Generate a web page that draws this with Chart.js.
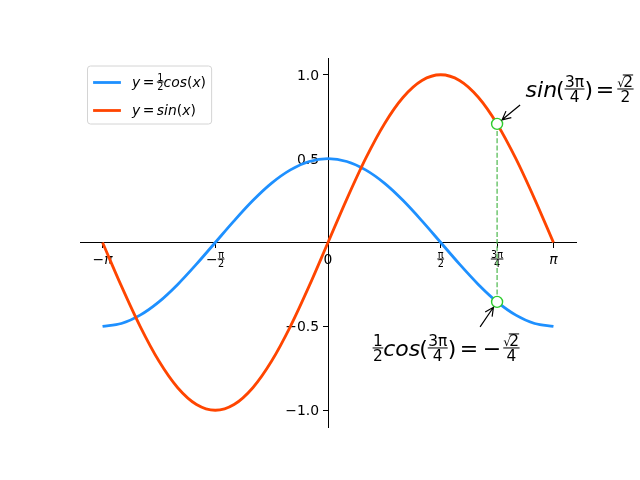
<!DOCTYPE html>
<html>
<head>
<meta charset="utf-8">
<script src="https://cdn.jsdelivr.net/npm/chart.js@4.4.1/dist/chart.umd.min.js"></script>
<style>
  body { margin: 0; background: #fff; }
  canvas { display: block; }
</style>
</head>
<body>
<canvas id="chart" width="640" height="480"></canvas>
<script>
// ---- DATA ----
// x in radians, every pi/12 from -pi to pi
const xs = [-3.1416, -2.8798, -2.6180, -2.3562, -2.0944, -1.8326, -1.5708, -1.3090, -1.0472, -0.7854, -0.5236, -0.2618,
            0, 0.2618, 0.5236, 0.7854, 1.0472, 1.3090, 1.5708, 1.8326, 2.0944, 2.3562, 2.6180, 2.8798, 3.1416];
const halfCosY = [-0.500, -0.483, -0.433, -0.354, -0.250, -0.129, 0.000, 0.129, 0.250, 0.354, 0.433, 0.483,
                  0.500, 0.483, 0.433, 0.354, 0.250, 0.129, 0.000, -0.129, -0.250, -0.354, -0.433, -0.483, -0.500];
const sinY = [0.000, -0.259, -0.500, -0.707, -0.866, -0.966, -1.000, -0.966, -0.866, -0.707, -0.500, -0.259,
              0.000, 0.259, 0.500, 0.707, 0.866, 0.966, 1.000, 0.966, 0.866, 0.707, 0.500, 0.259, 0.000];

// highlighted points at 3pi/4
const markerX = [2.3562, 2.3562];
const markerY = [0.707, -0.354];

// tick positions
const xTickValues = [-3.1416, -1.5708, 0, 1.5708, 2.3562, 3.1416];
const yTickValues = [-1.0, -0.5, 0.5, 1.0];

// ---- MATH TEXT HELPERS ----
const FONT = "'DejaVu Sans'";
const T = (t, i) => ({ t: t, i: !!i });
const FR = (n, d) => ({ frac: [n, d] });
const GAP = (g) => ({ gap: g });

const xTickLabels = [
    [T('\u2212'), T('\u03C0', true)],
    [T('\u2212'), FR([T('\u03C0')], [T('2')])],
    [T('0')],
    [FR([T('\u03C0')], [T('2')])],
    [FR([T('3\u03C0')], [T('4')])],
    [T('\u03C0', true)]
];

const legendLabels = [
    [T('y', true), GAP(0.18), T('='), GAP(0.18), FR([T('1')], [T('2')]), T('cos', true), T('('), T('x', true), T(')')],
    [T('y', true), GAP(0.18), T('='), GAP(0.18), T('sin', true), T('('), T('x', true), T(')')]
];

const annotSin = [T('sin', true), GAP(-0.05), T('('), FR([T('3\u03C0')], [T('4')]), T(')'), GAP(0.12), T('='), GAP(0.14),
                  FR([{ sqrt: [T('2')] }], [T('2')])];
const annotCos = [FR([T('1')], [T('2')]), T('cos', true), GAP(-0.05), T('('), FR([T('3\u03C0')], [T('4')]), T(')'),
                  GAP(0.16), T('='), GAP(0.2), T('\u2212'), GAP(0.1), FR([{ sqrt: [T('2')] }], [T('4')])];

function setFont(ctx, size, italic) {
    ctx.font = (italic ? 'italic ' : '') + size + 'px ' + FONT;
}

// lays out (and optionally draws) a list of math parts, returns width
function mathRun(ctx, parts, size, x, base, draw) {
    let cx = x;
    for (const p of parts) {
        if (p.gap !== undefined) { cx += p.gap * size; continue; }
        if (p.frac) {
            const fs = size * 0.7;
            const wn = mathRun(ctx, p.frac[0], fs, 0, 0, false);
            const wd = mathRun(ctx, p.frac[1], fs, 0, 0, false);
            const pad = size * 0.02;
            const w = Math.max(wn, wd) + 2 * pad;
            if (draw) {
                const ay = base - size * 0.36;
                const th = Math.max(1, size * 0.045);
                ctx.fillRect(cx, ay - th / 2, w, th);
                mathRun(ctx, p.frac[0], fs, cx + (w - wn) / 2, ay - size * 0.1, true);
                mathRun(ctx, p.frac[1], fs, cx + (w - wd) / 2, ay + size * 0.06 + fs * 0.73, true);
            }
            cx += w;
            continue;
        }
        if (p.sqrt) {
            const rs = size * 0.8;
            setFont(ctx, rs, false);
            const rw = ctx.measureText('\u221A').width * 0.72;
            const iw = mathRun(ctx, p.sqrt, size, 0, 0, false);
            if (draw) {
                setFont(ctx, rs, false);
                ctx.fillText('\u221A', cx - rw * 0.1, base);
                mathRun(ctx, p.sqrt, size, cx + rw, base, true);
                const th = Math.max(1, size * 0.06);
                ctx.fillRect(cx + rw * 0.9, base - size * 0.8, iw + rw * 0.1, th);
            }
            cx += rw + iw;
            continue;
        }
        setFont(ctx, size, p.i);
        if (draw) ctx.fillText(p.t, cx, base);
        cx += ctx.measureText(p.t).width;
    }
    return cx - x;
}

function drawArrow(ctx, x0, y0, x1, y1, shrink) {
    const dx = x1 - x0, dy = y1 - y0;
    const len = Math.hypot(dx, dy);
    const ux = dx / len, uy = dy / len;
    const tx = x1 - ux * shrink, ty = y1 - uy * shrink;
    const hl = 8.5, hw = 4.2;
    ctx.save();
    ctx.strokeStyle = '#000';
    ctx.lineWidth = 1.2;
    ctx.beginPath();
    ctx.moveTo(x0, y0);
    ctx.lineTo(tx, ty);
    ctx.moveTo(tx - ux * hl - uy * hw, ty - uy * hl + ux * hw);
    ctx.lineTo(tx, ty);
    ctx.lineTo(tx - ux * hl + uy * hw, ty - uy * hl - ux * hw);
    ctx.stroke();
    ctx.restore();
}

// ---- PLUGINS ----
const tickLabelPlugin = {
    id: 'tickLabels',
    beforeDatasetsDraw(chart) {
        const ctx = chart.ctx;
        const xs_ = chart.scales.x, ys_ = chart.scales.y;
        const axisY = ys_.getPixelForValue(0);
        const axisX = xs_.getPixelForValue(0);
        const size = 13.9;
        ctx.save();
        ctx.fillStyle = '#000';
        ctx.textBaseline = 'alphabetic';
        ctx.textAlign = 'left';
        xTickValues.forEach((v, i) => {
            const w = mathRun(ctx, xTickLabels[i], size, 0, 0, false);
            mathRun(ctx, xTickLabels[i], size, xs_.getPixelForValue(v) - w / 2, axisY + 21.5, true);
        });
        yTickValues.forEach((v) => {
            const label = (v < 0 ? '\u2212' : '') + Math.abs(v).toFixed(1);
            setFont(ctx, size, false);
            const w = ctx.measureText(label).width;
            ctx.fillText(label, axisX - 9 - w, ys_.getPixelForValue(v) + 5);
        });
        ctx.restore();
    }
};

const annotationPlugin = {
    id: 'annotations',
    afterDatasetsDraw(chart) {
        const ctx = chart.ctx;
        const px = chart.scales.x.getPixelForValue(markerX[0]);
        const py0 = chart.scales.y.getPixelForValue(markerY[0]);
        const py1 = chart.scales.y.getPixelForValue(markerY[1]);
        const size = 22;
        ctx.save();
        ctx.fillStyle = '#000';
        ctx.textBaseline = 'alphabetic';
        ctx.textAlign = 'left';
        drawArrow(ctx, px + 23, py0 - 19, px, py0, 6.5);
        mathRun(ctx, annotSin, size, px + 28.5, py0 - 27, true);
        drawArrow(ctx, px - 17, py1 + 25, px, py1, 6.5);
        mathRun(ctx, annotCos, size, px - 124.5, py1 + 54, true);

        // legend
        const area = chart.chartArea;
        const fs = 13.9;
        const tw = Math.max(...legendLabels.map(l => mathRun(ctx, l, fs, 0, 0, false)));
        const bx = area.left + 7.5, by = area.top + 8;
        const bw = 5.6 + 27.8 + 11.1 + tw + 5.6, bh = 58;
        ctx.beginPath();
        ctx.roundRect(bx, by, bw, bh, 3);
        ctx.fillStyle = 'rgba(255,255,255,0.8)';
        ctx.fill();
        ctx.strokeStyle = '#d4d4d4';
        ctx.lineWidth = 1;
        ctx.stroke();
        const rows = [by + 16.5, by + 44.5];
        const dsets = [chart.data.datasets[0], chart.data.datasets[1]];
        rows.forEach((ry, i) => {
            ctx.strokeStyle = dsets[i].borderColor;
            ctx.lineWidth = dsets[i].borderWidth;
            ctx.beginPath();
            ctx.moveTo(bx + 5.6, ry);
            ctx.lineTo(bx + 5.6 + 27.8, ry);
            ctx.stroke();
            ctx.fillStyle = '#000';
            mathRun(ctx, legendLabels[i], fs, bx + 5.6 + 27.8 + 11.1, ry + 4.5, true);
        });
        ctx.restore();
    }
};

// ---- CHART ----
const ctx = document.getElementById('chart').getContext('2d');
const chart = new Chart(ctx, {
    type: 'line',
    data: {
        datasets: [{
            label: 'y = 1/2 cos(x)',
            data: xs.map((x, i) => ({ x: x, y: halfCosY[i] })),
            borderColor: '#1E90FF',
            borderWidth: 2.8,
            pointRadius: 0,
            cubicInterpolationMode: 'monotone',
            order: 4
        }, {
            label: 'y = sin(x)',
            data: xs.map((x, i) => ({ x: x, y: sinY[i] })),
            borderColor: '#FF4500',
            borderWidth: 2.8,
            pointRadius: 0,
            cubicInterpolationMode: 'monotone',
            order: 3
        }, {
            label: 'guide',
            data: markerX.map((x, i) => ({ x: x, y: markerY[i] })),
            borderColor: '#4cb84c',
            borderWidth: 1.2,
            borderDash: [5, 2.2],
            pointRadius: 0,
            order: 2
        }, {
            type: 'scatter',
            label: 'points',
            data: markerX.map((x, i) => ({ x: x, y: markerY[i] })),
            showLine: false,
            pointRadius: 5.5,
            pointBackgroundColor: '#ffffff',
            pointBorderColor: '#2ecc2e',
            pointBorderWidth: 1.4,
            order: 1
        }]
    },
    options: {
        responsive: false,
        animation: false,
        devicePixelRatio: 1,
        layout: { padding: { left: 80, right: 64, top: 58, bottom: 53 } },
        plugins: {
            legend: { display: false },
            tooltip: { enabled: false }
        },
        scales: {
            x: {
                type: 'linear',
                min: -3.4558,
                max: 3.4558,
                position: { y: 0 },
                afterBuildTicks: (scale) => { scale.ticks = xTickValues.map(v => ({ value: v })); },
                ticks: { display: false, autoSkip: false },
                grid: { drawOnChartArea: false, drawTicks: true, tickLength: 5, color: '#000', lineWidth: 1 },
                border: { display: true, color: '#000', width: 1 }
            },
            y: {
                type: 'linear',
                min: -1.1,
                max: 1.1,
                position: { x: 0 },
                afterBuildTicks: (scale) => { scale.ticks = yTickValues.map(v => ({ value: v })); },
                ticks: { display: false, autoSkip: false },
                grid: { drawOnChartArea: false, drawTicks: true, tickLength: 5, color: '#000', lineWidth: 1 },
                border: { display: true, color: '#000', width: 1 }
            }
        }
    },
    plugins: [tickLabelPlugin, annotationPlugin]
});
</script>
</body>
</html>
